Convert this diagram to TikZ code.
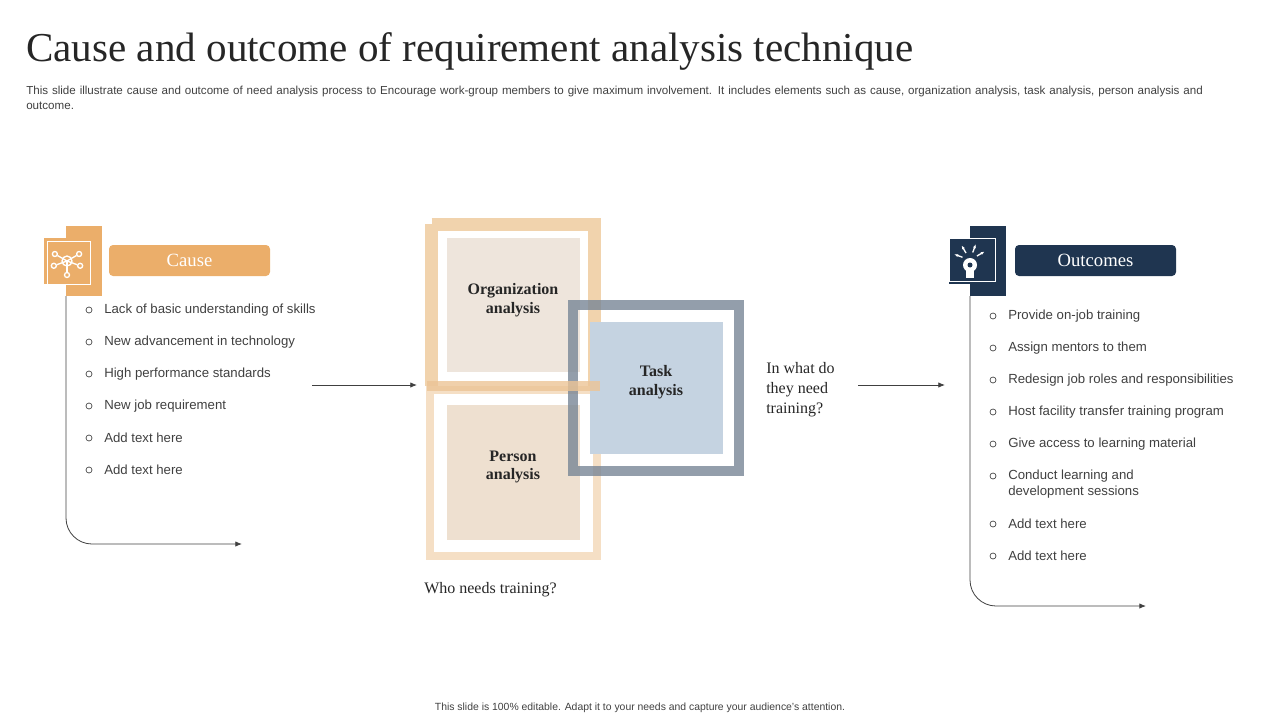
\documentclass[tikz,border=0pt]{standalone}
\usepackage{fontspec}
\setmainfont{Liberation Serif}
\setsansfont{Liberation Sans}
\usetikzlibrary{arrows.meta,calc}
\definecolor{org}{HTML}{EBAE6A}
\definecolor{navy}{HTML}{1F3550}
\definecolor{txt}{HTML}{404040}
\tikzset{
  bul/.style={anchor=west,font=\sffamily\fontsize{9.9}{12}\selectfont,text=txt,align=left,inner sep=0},
  dot/.style={circle,draw=txt,line width=0.5pt,inner sep=0,minimum size=4.5pt},
  lab/.style={rounded corners=3pt,minimum width=120.75pt,minimum height=23.25pt,text=white,font=\fontsize{14}{16}\selectfont},
  inner/.style={font=\bfseries\fontsize{12}{14}\selectfont,text=black!85,align=center},
  arr/.style={-{Latex[length=5pt,width=4pt]},draw=txt,line width=0.6pt}
}
\begin{document}
\begin{tikzpicture}[x=0.75pt,y=-0.75pt]
\useasboundingbox (0,0) rectangle (1280,720);
\node[anchor=base west,inner sep=0,font=\fontsize{30.8}{34}\selectfont,text=black!85] (title) at (26,62) {Cause and outcome of requirement analysis technique};
\node[anchor=north west,inner sep=0,text width=885pt,align=left,font=\sffamily\fontsize{8.7}{11}\selectfont,text=txt] (sub) at (26,86) {This slide illustrate cause and outcome of need analysis process to Encourage work-group members to give maximum involvement. It includes elements such as cause, organization analysis, task analysis, person analysis and outcome.};
% Cause
\fill[org] (66,226) rectangle (102,296);
\fill[org] (44,238) rectangle (90,284);
\draw[white,line width=0.5pt] (47,241) rectangle (90,284);
\begin{scope}[white,line width=1pt]
\draw (67,261) circle (5);
\foreach \a in {90,210,330,20,160}{\draw (67,261) -- ($(67,261)+(\a:11)$); \draw ($(67,261)+(\a:14)$) circle (2.5);}
\end{scope}
\node[lab,fill=org] (cause) at (189.5,260.5) {Cause};
\coordinate (c1) at (66,296);
\coordinate (c2) at (242,544);
\draw[arr] (c1) -- (66,518) to[out=-90,in=180] (92,544) -- (c2);
\foreach \t [count=\i] in {Lack of basic understanding of skills,New advancement  in technology,High performance  standards,New job requirement,Add text here,Add text here}{
  \node[dot] (cd\i) at (89,278+32*\i) {};
  \node[bul] (ct\i) at (104,278+32*\i) {\t};
}
\coordinate (a1) at (312,385); \coordinate (a2) at (417,385);
\draw[arr] (a1) -- (a2);
% center
\fill[color={rgb,255:red,238;green,229;blue,220}] (447,238) rectangle (580,372);
\fill[color={rgb,255:red,238;green,224;blue,208}] (447,405) rectangle (580,540);
\draw[draw={rgb,255:red,245;green,223;blue,197},line width=6.5pt] (430,390) rectangle (597,556);
\draw[draw={rgb,255:red,240;green,206;blue,164},line width=9.75pt,opacity=0.9] (431.5,224.5) -- (594.5,224.5) -- (594.5,386) (431.5,386) -- (431.5,224.5);
\fill[color={rgb,255:red,197;green,211;blue,225}] (590,322) rectangle (723,454);
\draw[draw={rgb,255:red,120;green,134;blue,150},line width=7.5pt,opacity=0.8] (573,305) rectangle (739,471);
\draw[draw={rgb,255:red,236;green,196;blue,150},line width=7.5pt,opacity=0.8] (426.5,386) -- (600,386);
\node[inner] (orgn) at (513,300) {Organization\\analysis};
\node[inner] (pers) at (513,467) {Person\\analysis};
\node[inner] (task) at (656,382) {Task\\analysis};
\node[anchor=north west,inner sep=0,align=left,font=\fontsize{12}{15}\selectfont,text=black!85] (q1) at (766,362) {In what do\\they need\\training?};
\node[anchor=west,inner sep=0,font=\fontsize{12}{15}\selectfont,text=black!85] (q2) at (424,590) {Who needs training?};
\coordinate (b1) at (858,385); \coordinate (b2) at (945,385);
\draw[arr] (b1) -- (b2);
% Outcomes
\fill[navy] (970,226) rectangle (1006,296);
\fill[navy] (949,238) rectangle (995,284);
\draw[white,line width=0.5pt] (949,238) rectangle (995,281);
\begin{scope}[white,line width=1pt]
\fill (970,265) circle (7);
\fill (966,270) rectangle (974,278);
\fill[navy] (970,265) circle (2.5);
\foreach \a in {200,240,290,330}{\draw[-{Latex[length=3pt]}] ($(970,260)+(\a:8)$) -- ($(970,260)+(\a:17)$);}
\end{scope}
\node[lab,fill=navy] (outc) at (1095.5,260.5) {Outcomes};
\coordinate (o1) at (970,296);
\coordinate (o2) at (1146,606);
\draw[arr] (o1) -- (970,580) to[out=-90,in=180] (996,606) -- (o2);
\foreach \t/\y [count=\i] in {Provide  on-job training/316,Assign mentors to them/348,Redesign job roles and responsibilities/380,Host facility transfer training program/412,Give access to learning material/444,Add text here/524,Add text here/556}{
  \node[dot] (od\i) at (993,\y) {};
  \node[bul] (ot\i) at (1008,\y) {\t};
}
\node[dot] (od8) at (993,476) {};
\node[bul,anchor=north west] (ot8) at (1008,470) {Conduct learning and\\development  sessions};
\node[font=\sffamily\fontsize{7.8}{9}\selectfont,text=txt] (foot) at (640,708) {This slide is 100\% editable.  Adapt it to your needs and capture your audience's attention.};
\end{tikzpicture}
\end{document}
